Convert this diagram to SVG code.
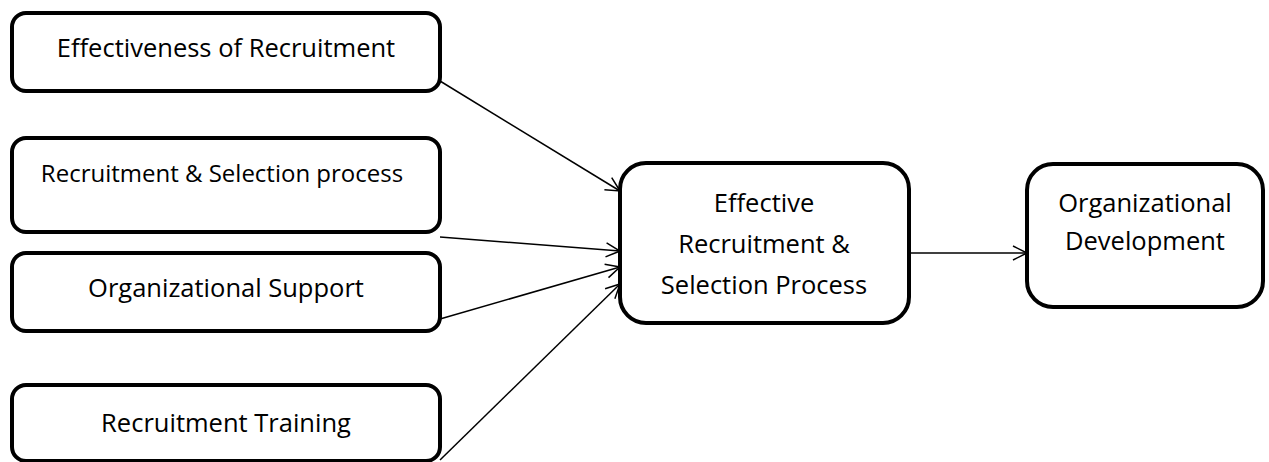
<svg xmlns="http://www.w3.org/2000/svg" width="1269" height="462" viewBox="0 0 1269 462">
<style>
.box{fill:#fff;stroke:#000;stroke-width:4}
.t{font-family:"Open Sans","Liberation Sans",sans-serif;font-size:25.5px;fill:#000;text-anchor:middle}
.c{stroke:#000;stroke-width:1.5;fill:none;marker-end:url(#ah)}
</style>
<defs>
<marker id="ah" markerUnits="userSpaceOnUse" markerWidth="20" markerHeight="20" refX="15" refY="8" orient="auto">
<path d="M1,1 L15,8 L1,15" fill="none" stroke="#000" stroke-width="1.5"/>
</marker>
</defs>
<g id="connectors">
<line class="c" x1="440" y1="81" x2="620" y2="191"/>
<line class="c" x1="440" y1="237" x2="620" y2="251"/>
<line class="c" x1="440" y1="319" x2="620" y2="267"/>
<line class="c" x1="440" y1="460" x2="620" y2="284"/>
<line class="c" x1="909" y1="253" x2="1027" y2="253"/>
</g>
<g id="n1"><rect class="box" x="12" y="13" width="428" height="78" rx="14"/><text class="t" x="226" y="57">Effectiveness of Recruitment</text></g>
<g id="n2"><rect class="box" x="12" y="138" width="428" height="94" rx="14"/><text class="t" x="222" y="182" style="font-size:24px">Recruitment &amp; Selection process</text></g>
<g id="n3"><rect class="box" x="12" y="253" width="428" height="78" rx="14"/><text class="t" x="226" y="297">Organizational Support</text></g>
<g id="n4"><rect class="box" x="12" y="385" width="428" height="76" rx="14"/><text class="t" x="226" y="432">Recruitment Training</text></g>
<g id="n5"><rect class="box" x="620" y="163" width="289" height="160" rx="26"/>
<text class="t" x="764" y="212">Effective</text>
<text class="t" x="764" y="253">Recruitment &amp;</text>
<text class="t" x="764" y="294">Selection Process</text></g>
<g id="n6"><rect class="box" x="1027" y="164" width="236" height="143" rx="26"/>
<text class="t" x="1145" y="212">Organizational</text>
<text class="t" x="1145" y="250">Development</text></g>
</svg>
